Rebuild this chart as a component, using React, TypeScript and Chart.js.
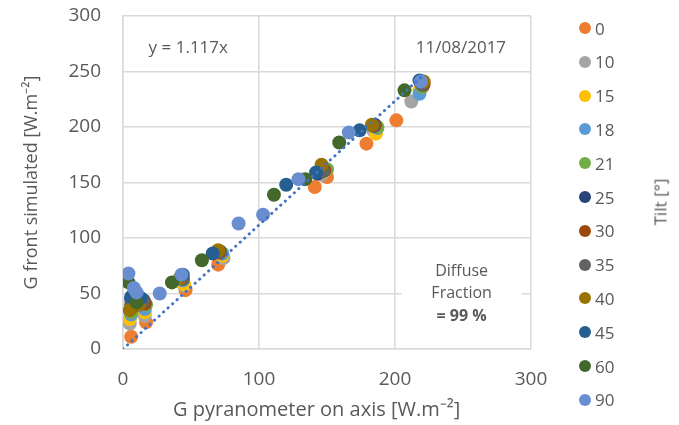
import React, { useEffect, useRef } from "react";
import { Chart, registerables } from "chart.js";

Chart.register(...registerables);

// ---- data ----
const tilts = ["0", "10", "15", "18", "21", "25", "30", "35", "40", "45", "60", "90"];
const colors = ["#ED7D31", "#A5A5A5", "#FFC000", "#5B9BD5", "#70AD47", "#264478", "#9E480E", "#636363", "#997300", "#255E91", "#43682B", "#698ED0"];

const s0 = [[6, 11], [17, 24], [46, 53], [70, 76], [141, 146], [150, 155], [179, 185], [201, 206], [221, 240]];
const s10 = [[5, 23], [16, 30], [45, 57], [74, 82], [146, 157], [184, 197], [212, 223], [220, 238]];
const s15 = [[5, 27], [16, 33], [45, 58], [73, 84], [148, 160], [186, 194], [218, 233]];
const s18 = [[6, 31], [16, 36], [44, 62], [73, 86], [149, 161], [187, 199], [218, 230]];
const s21 = [[6, 33], [17, 40], [44, 63], [72, 87], [150, 162], [187, 200], [220, 236]];
const s25 = [[6, 45], [15, 44], [43, 65], [71, 88], [143, 158], [185, 202], [219, 240]];
const s30 = [[7, 38], [16, 41], [42, 64], [71, 87], [148, 161], [185, 201], [221, 238]];
const s35 = [[6, 40], [15, 43], [44, 63], [70, 88], [147, 160], [184, 201], [220, 238]];
const s40 = [[5, 35], [12, 40], [42, 64], [70, 89], [146, 166], [183, 202], [221, 241]];
const s45 = [[6, 47], [13, 46], [44, 67], [66, 86], [120, 148], [142, 159], [174, 197], [218, 242]];
const s60 = [[4, 60], [10, 42], [36, 60], [58, 80], [111, 139], [134, 153], [159, 186], [207, 233]];
const s90 = [[4, 68], [10, 51], [8, 55], [27, 50], [43, 67], [85, 113], [103, 121], [129, 153], [166, 195], [219, 241]];
const series = [s0, s10, s15, s18, s21, s25, s30, s35, s40, s45, s60, s90];

const trendSlope = 1.117;
const trendStartX = 0;
const trendEndX = 221;

const xMin = 0, xMax = 300, xStep = 100;
const yMin = 0, yMax = 300, yStep = 50;

const xTitle = "G pyranometer on axis [W.m\u207B\u00B2]    ";
const yTitle = "G front simulated [W.m\u207B\u00B2]";
const legendTitle = "Tilt [°]";
const eqText = "y = 1.117x";
const dateText = "11/08/2017";
const diffuseLines = ["Diffuse", "Fraction", "= 99 %"];

// annotation anchors in data coordinates
const eqPos = [48, 271];
const datePos = [248.5, 271];
const diffusePos = [249, 50];

const FONT = "'Open Sans', sans-serif";
const GRAY = "#595959";

const annotationPlugin = {
  id: "annots",
  beforeDatasetsDraw(chart: any) {
    const { ctx, scales } = chart;
    const x = scales.x, y = scales.y;
    ctx.save();
    ctx.textAlign = "center";
    ctx.textBaseline = "middle";
    ctx.fillStyle = GRAY;
    ctx.font = `17px ${FONT}`;
    ctx.fillText(eqText, x.getPixelForValue(eqPos[0]), y.getPixelForValue(eqPos[1]));
    ctx.fillText(dateText, x.getPixelForValue(datePos[0]), y.getPixelForValue(datePos[1]));
    const cx = x.getPixelForValue(diffusePos[0]);
    const cy = y.getPixelForValue(diffusePos[1]);
    ctx.fillStyle = "#ffffff";
    ctx.fillRect(cx - 60, cy - 38, 120, 76);
    ctx.fillStyle = GRAY;
    ctx.font = `16px ${FONT}`;
    ctx.fillText(diffuseLines[0], cx, cy - 22.5);
    ctx.fillText(diffuseLines[1], cx, cy);
    ctx.font = `bold 16px ${FONT}`;
    ctx.fillText(diffuseLines[2], cx, cy + 22.5);
    ctx.restore();
  },
};

export default function App() {
  const ref = useRef<HTMLCanvasElement | null>(null);

  useEffect(() => {
    if (!ref.current) return;
    const datasets: any[] = series.map((s, i) => ({
      type: "scatter",
      label: tilts[i],
      data: s.map(([a, b]) => ({ x: a, y: b })),
      backgroundColor: colors[i],
      borderColor: colors[i],
      borderWidth: 0,
      pointRadius: 7,
      pointHoverRadius: 7,
      order: series.length - i,
    }));
    datasets.push({
      type: "line",
      label: "trend",
      data: [
        { x: trendStartX, y: trendSlope * trendStartX },
        { x: trendEndX, y: trendSlope * trendEndX },
      ],
      borderColor: "#4472C4",
      borderWidth: 3,
      borderDash: [0.1, 6],
      borderCapStyle: "round",
      pointRadius: 0,
      fill: false,
      order: -1,
    });

    const chart = new Chart(ref.current, {
      type: "scatter",
      data: { datasets },
      plugins: [annotationPlugin],
      options: {
        animation: false,
        responsive: true,
        maintainAspectRatio: false,
        layout: { padding: { left: 17, top: 16, right: 148, bottom: 1 } },
        plugins: { legend: { display: false }, tooltip: { enabled: false } },
        scales: {
          x: {
            type: "linear",
            min: xMin,
            max: xMax,
            ticks: { stepSize: xStep, color: GRAY, font: { family: FONT, size: 19 }, padding: 0 },
            grid: { color: "#D9D9D9", lineWidth: 1.5, drawTicks: true, tickLength: 19, tickColor: "rgba(0,0,0,0)" },
            border: { color: "#D9D9D9", width: 1.5 },
            title: { display: true, text: xTitle, color: GRAY, font: { family: FONT, size: 20 }, padding: { top: 2, bottom: 2 } },
            afterFit: (s: any) => { s.height = 75; },
          },
          y: {
            type: "linear",
            min: yMin,
            max: yMax,
            ticks: { stepSize: yStep, color: GRAY, font: { family: FONT, size: 19 }, padding: 0 },
            grid: { color: "#D9D9D9", lineWidth: 1.5, drawTicks: true, tickLength: 22, tickColor: "rgba(0,0,0,0)" },
            border: { color: "#D9D9D9", width: 1.5 },
            title: { display: true, text: yTitle, color: GRAY, font: { family: FONT, size: 18 } },
            afterFit: (s: any) => { s.width = 106; },
          },
        },
      } as any,
    });
    return () => chart.destroy();
  }, []);

  return (
    <div style={{ position: "fixed", left: 0, top: 0, width: 679, height: 425, background: "#fff" }}>
      <div style={{ position: "absolute", left: 0, top: 0, width: 679, height: 425 }}>
        <canvas ref={ref} />
      </div>
      {tilts.map((t, i) => (
        <div
          key={t}
          style={{
            position: "absolute",
            left: 579,
            top: 28 + i * 33.8 - 11,
            height: 22,
            display: "flex",
            alignItems: "center",
            fontFamily: FONT,
            fontSize: 17,
            color: GRAY,
            whiteSpace: "nowrap",
          }}
        >
          <span style={{ display: "inline-block", width: 12, height: 12, borderRadius: "50%", background: colors[i], marginRight: 4 }} />
          <span>{t}</span>
        </div>
      ))}
      <div
        style={{
          position: "absolute",
          left: 660,
          top: 202,
          transform: "translate(-50%, -50%) rotate(-90deg)",
          fontFamily: FONT,
          fontSize: 17,
          color: GRAY,
          whiteSpace: "nowrap",
        }}
      >
        {legendTitle}
      </div>
    </div>
  );
}
